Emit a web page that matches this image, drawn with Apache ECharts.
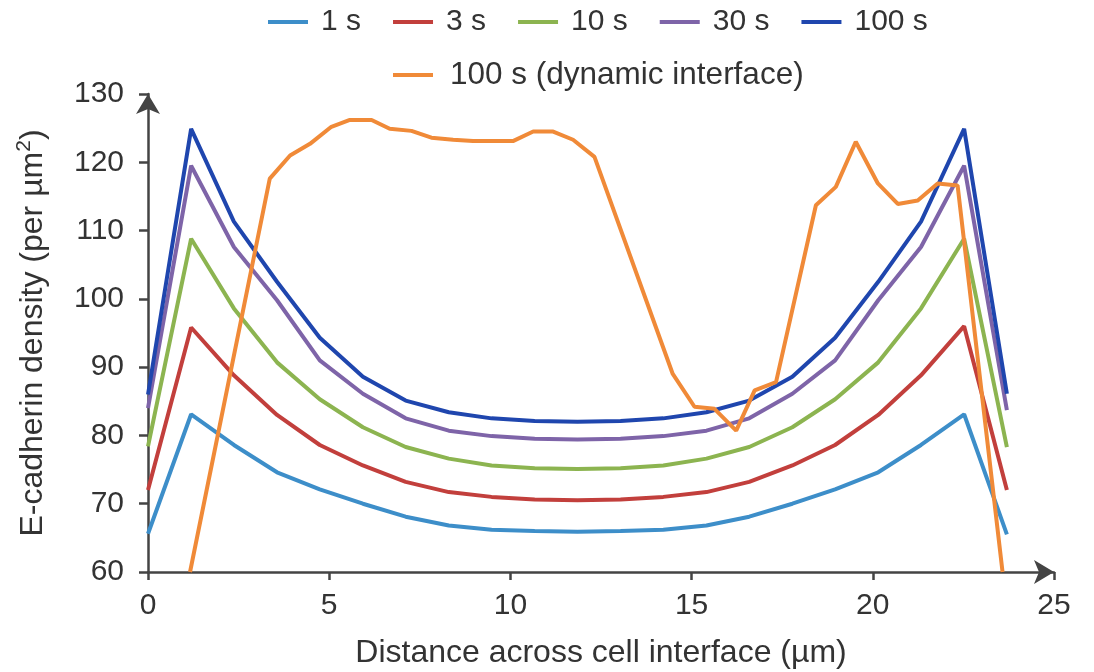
<!DOCTYPE html>
<html>
<head>
<meta charset="utf-8">
<script src="https://cdn.jsdelivr.net/npm/echarts@6/dist/echarts.min.js"></script>
<style>
html, body { margin: 0; padding: 0; background: #fff; }
#chart { width: 1094px; height: 672px; }
</style>
</head>
<body>
<div id="chart"></div>
<script>
// positions across the interface (um)
var xPos = [0, 1.19, 2.37, 3.56, 4.74, 5.93, 7.11, 8.30, 9.48, 10.67, 11.85,
  13.04, 14.22, 15.41, 16.59, 17.78, 18.96, 20.15, 21.33, 22.52, 23.70];

var s1 = [65.6, 83.1, 78.6, 74.6, 72.1, 70.0, 68.1, 66.8, 66.2, 66.0, 65.9,
  66.0, 66.2, 66.8, 68.1, 70.0, 72.1, 74.6, 78.6, 83.1, 65.5];
var s3 = [72.0, 95.8, 88.8, 83.0, 78.6, 75.6, 73.2, 71.7, 71.0, 70.6, 70.5,
  70.6, 71.0, 71.7, 73.2, 75.6, 78.6, 83.0, 88.8, 96.0, 72.0];
var s10 = [78.4, 108.8, 98.6, 90.7, 85.3, 81.2, 78.3, 76.6, 75.6, 75.2, 75.1,
  75.2, 75.6, 76.6, 78.3, 81.2, 85.3, 90.7, 98.6, 108.8, 78.3];
var s30 = [84.0, 119.5, 107.6, 99.8, 91.0, 86.1, 82.5, 80.7, 79.9, 79.5, 79.4,
  79.5, 79.9, 80.7, 82.5, 86.1, 91.0, 99.8, 107.6, 119.5, 83.7];
var s100 = [86.0, 124.9, 111.3, 102.5, 94.3, 88.6, 85.1, 83.4, 82.5, 82.1, 82.0,
  82.1, 82.5, 83.4, 85.1, 88.6, 94.3, 102.5, 111.3, 124.9, 86.1];

// dynamic interface run has its own sample positions
var dynX = [1.16, 3.36, 3.92, 4.47, 5.06, 5.57, 6.17, 6.67, 7.27, 7.82, 8.42, 8.97,
  10.07, 10.63, 11.18, 11.73, 12.32, 14.48, 15.08, 15.63, 16.23, 16.74, 17.33,
  18.43, 18.98, 19.53, 20.14, 20.69, 21.24, 21.79, 22.34, 23.58];
var dynY = [60, 117.6, 121.0, 122.7, 125.2, 126.2, 126.2, 124.9, 124.6, 123.6, 123.3, 123.1,
  123.1, 124.5, 124.5, 123.3, 120.8, 89.0, 84.2, 83.9, 80.7, 86.6, 87.8,
  113.7, 116.4, 123.0, 116.9, 113.9, 114.4, 116.9, 116.6, 60];

var names = ['1 s', '3 s', '10 s', '30 s', '100 s'];
var colors = ['#3d8ec9', '#c23f3c', '#8cb450', '#7e64a8', '#1f46ae'];
var dynName = '100 s (dynamic interface)';
var dynColor = '#f08a38';

var font = 'Liberation Sans';
var textColor = '#333';

function pairs(xs, ys) {
  return ys.map(function (y, i) { return [xs[i], y]; });
}

var chart = echarts.init(document.getElementById('chart'));

var seriesList = [s1, s3, s10, s30, s100].map(function (vals, i) {
  return {
    name: names[i],
    type: 'line',
    data: pairs(xPos, vals),
    showSymbol: false,
    lineStyle: { width: 4, color: colors[i] },
    itemStyle: { color: colors[i] }
  };
});
seriesList.push({
  name: dynName,
  type: 'line',
  data: pairs(dynX, dynY),
  showSymbol: false,
  z: 3,
  lineStyle: { width: 4, color: dynColor },
  itemStyle: { color: dynColor }
});

var axisStyle = { color: '#444', width: 2.5 };

chart.setOption({
  backgroundColor: '#fff',
  animation: false,
  textStyle: { fontFamily: font },
  legend: [
    {
      data: names,
      top: 2,
      left: 263,
      icon: 'rect',
      itemWidth: 40,
      itemHeight: 4,
      itemGap: 32,
      textStyle: { fontSize: 30, color: textColor, fontFamily: font, padding: [0, 0, 0, 8] }
    },
    {
      data: [dynName],
      top: 54,
      left: 388,
      icon: 'rect',
      itemWidth: 40,
      itemHeight: 4,
      textStyle: { fontSize: 31.5, color: textColor, fontFamily: font, padding: [0, 0, 0, 12] }
    }
  ],
  grid: { left: 148, right: 40, top: 94, bottom: 100, outerBoundsMode: 'none' },
  xAxis: {
    type: 'value',
    min: 0,
    max: 25,
    interval: 5,
    name: 'Distance across cell interface (µm)',
    nameLocation: 'middle',
    nameGap: 65,
    nameTextStyle: { fontSize: 32, color: textColor, fontFamily: font },
    axisLine: { show: true, lineStyle: axisStyle, symbol: ['none', 'arrow'], symbolSize: [18, 20] },
    axisTick: { show: true, length: 8, lineStyle: axisStyle },
    axisLabel: { fontSize: 30, color: textColor, margin: 19, fontFamily: font },
    splitLine: { show: false }
  },
  yAxis: {
    type: 'value',
    min: 60,
    max: 130,
    interval: 10,
    name: '{t|E-cadherin density (per µm}{sup|2}{t|)}',
    nameLocation: 'middle',
    nameGap: 96,
    nameTextStyle: {
      fontSize: 32, color: textColor, fontFamily: font,
      rich: {
        t: { fontSize: 32, color: textColor, fontFamily: font, lineHeight: 38 },
        sup: { fontSize: 21, color: textColor, fontFamily: font, verticalAlign: 'top', lineHeight: 22 }
      }
    },
    axisLine: { show: true, lineStyle: axisStyle, symbol: ['none', 'arrow'], symbolSize: [18, 20] },
    axisTick: { show: true, length: 9, lineStyle: axisStyle },
    axisLabel: { fontSize: 30, color: textColor, margin: 24, fontFamily: font },
    splitLine: { show: false }
  },
  series: seriesList
});
</script>
</body>
</html>
